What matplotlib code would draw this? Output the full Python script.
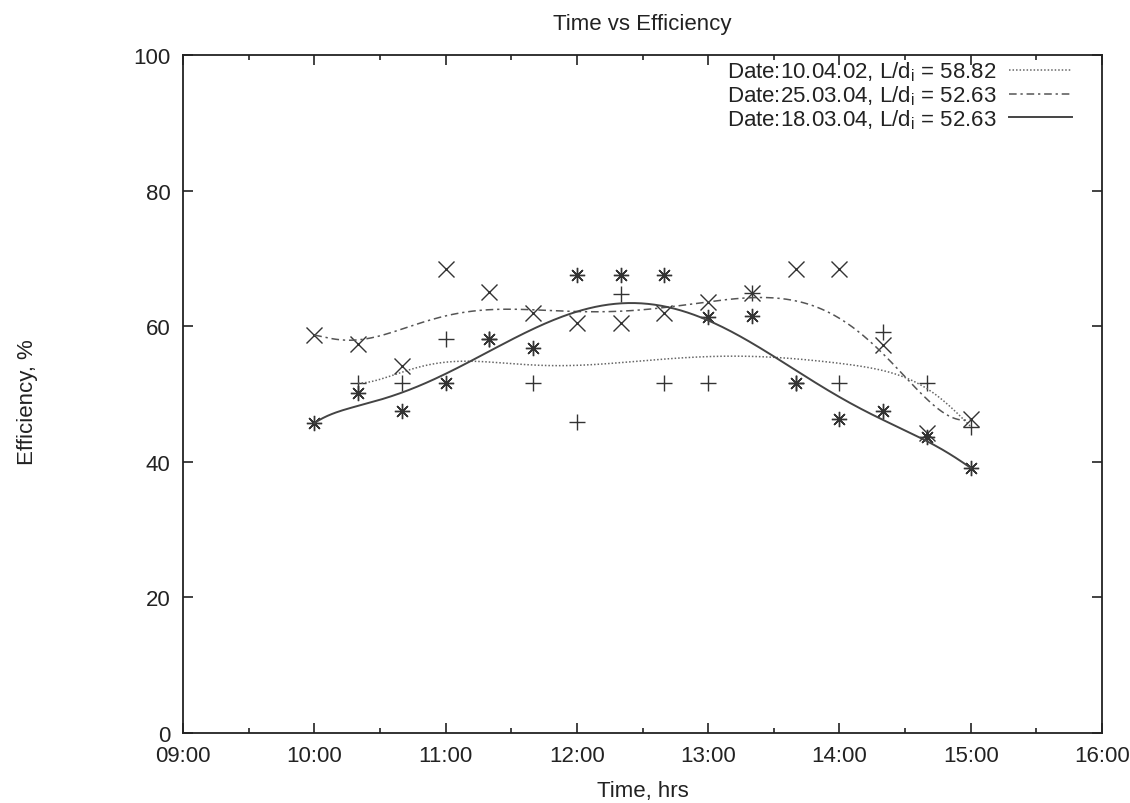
import numpy as np
import matplotlib
matplotlib.use("Agg")
import matplotlib.pyplot as plt
from matplotlib.ticker import MultipleLocator, FuncFormatter
from math import comb

plt.rcParams['font.family'] = ['Liberation Sans', 'DejaVu Sans']
plt.rcParams['mathtext.fontset'] = 'custom'
plt.rcParams['mathtext.rm'] = 'Liberation Sans'
plt.rcParams['mathtext.it'] = 'Liberation Sans'

# data (efficiency in %)
times = ["10:00", "10:20", "10:40", "11:00", "11:20", "11:40", "12:00", "12:20",
         "12:40", "13:00", "13:20", "13:40", "14:00", "14:20", "14:40", "15:00"]
times_100402 = times[1:]
eff_100402 = [51.6, 51.6, 58.1, 58.1, 51.6, 45.9, 64.7, 51.6,
              51.6, 64.9, 51.6, 51.6, 59.1, 51.6, 45.2]
eff_250304 = [58.7, 57.4, 54.1, 68.4, 65.0, 61.9, 60.4, 60.4,
              61.9, 63.5, 64.9, 68.4, 68.4, 57.2, 44.3, 46.3]
eff_180304 = [45.7, 50.1, 47.5, 51.6, 58.1, 56.8, 67.6, 67.6,
              67.6, 61.3, 61.5, 51.6, 46.3, 47.5, 43.6, 39.1]
labels = [r"Date:10.04.02, L/d$_\mathrm{i}$ = 58.82",
          r"Date:25.03.04, L/d$_\mathrm{i}$ = 52.63",
          r"Date:18.03.04, L/d$_\mathrm{i}$ = 52.63"]


def to_hours(ts):
    return np.array([int(t[:2]) + int(t[3:]) / 60 for t in ts])


# gnuplot style "smooth bezier" through all the points of a series
def bezier(x, y, n=300):
    m = len(x) - 1
    t = np.linspace(0, 1, n)
    B = np.array([comb(m, k) * t**k * (1 - t)**(m - k) for k in range(m + 1)])
    return B.T @ np.asarray(x), B.T @ np.asarray(y)


fig = plt.figure(figsize=(11.3, 8.04), dpi=100)
ax = fig.add_axes([183/1130, 1 - 734/804, (1102 - 183)/1130, (734 - 56)/804])

fs = 16
ink = '#222222'
mk = '#333333'

series = [
    (to_hours(times_100402), eff_100402, '+', dict(ls=(0, (1, 1.3)), color='#666666', lw=1.1)),
    (to_hours(times), eff_250304, 'x', dict(ls=(0, (5, 2.5, 1.5, 2.5)), color='#555555', lw=1.1)),
    (to_hours(times), eff_180304, (8, 2, 0), dict(ls='-', color='#444444', lw=1.4)),
]

for (x, y, m, st), lab in zip(series, labels):
    ax.plot(x, y, ls='none', marker=m, ms=11, mew=1.0, color=mk)
    bx, by = bezier(x, y)
    ax.plot(bx, by, label=lab, **st)

ax.set_xlim(9, 16)
ax.set_ylim(0, 100)
ax.xaxis.set_major_locator(MultipleLocator(1))
ax.xaxis.set_minor_locator(MultipleLocator(0.5))
ax.xaxis.set_major_formatter(FuncFormatter(lambda v, _: f"{int(round(v)):02d}:00"))
ax.yaxis.set_major_locator(MultipleLocator(20))

ax.tick_params(which='both', direction='in', top=True, right=True,
               labelsize=fs, labelcolor=ink, color=ink, width=1.2)
ax.tick_params(which='major', length=7)
ax.tick_params(which='minor', length=3.5)
ax.tick_params(axis='y', pad=9)
ax.tick_params(axis='x', pad=9)
for s in ax.spines.values():
    s.set_linewidth(1.3)
    s.set_color(ink)

ax.set_title("Time vs Efficiency", fontsize=fs, color=ink, pad=19)
ax.set_xlabel("Time, hrs", fontsize=fs, color=ink)
ax.xaxis.set_label_coords(0.5, -0.07)
ax.set_ylabel("Efficiency, %", fontsize=fs, color=ink)
ax.yaxis.set_label_coords(-0.158, 0.49)

ax.legend(loc='upper right', bbox_to_anchor=(0.967, 0.993), frameon=False,
          fontsize=fs, markerfirst=False, handlelength=2.8, handletextpad=0.58,
          labelspacing=0.0, borderpad=0, borderaxespad=0, labelcolor=ink)

fig.savefig("out.png", dpi=100)
